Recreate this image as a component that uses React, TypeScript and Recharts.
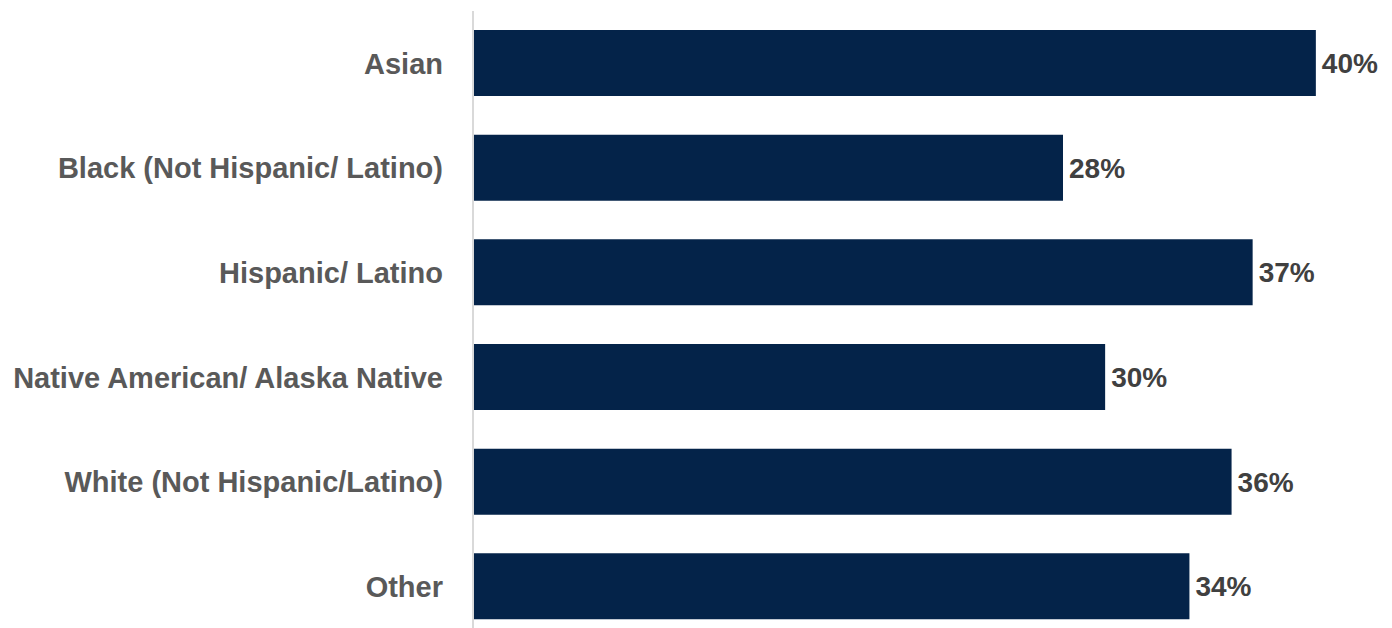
import { BarChart, Bar, XAxis, YAxis, LabelList } from 'recharts';

const categories = [
  'Asian',
  'Black (Not Hispanic/ Latino)',
  'Hispanic/ Latino',
  'Native American/ Alaska Native',
  'White (Not Hispanic/Latino)',
  'Other',
];

const shares = [40, 28, 37, 30, 36, 34];

const data = categories.map((name, i) => ({ name, value: shares[i] }));

const FONT = '"Liberation Sans", Arial, sans-serif';

export default function App() {
  return (
    <div style={{ position: 'absolute', left: 0, top: 0, width: 1392, height: 628, overflow: 'hidden', background: '#fff' }}>
      <BarChart
        width={1392}
        height={641}
        data={data}
        layout="vertical"
        margin={{ top: 11, right: 34, bottom: 2, left: 0 }}
        barSize={66}
      >
        <XAxis type="number" domain={[0, 42]} hide />
        <YAxis
          type="category"
          dataKey="name"
          width={473}
          tickLine={false}
          tickSize={0}
          tickMargin={30}
          axisLine={{ stroke: '#d9d9d9', strokeWidth: 2 }}
          tick={{ fill: '#595959', fontSize: 29, fontWeight: 'bold', fontFamily: FONT }}
          interval={0}
        />
        <Bar dataKey="value" fill="#042349" isAnimationActive={false}>
          <LabelList
            dataKey="value"
            position="right"
            offset={6}
            formatter={(v: any) => `${v}%`}
            style={{ fill: '#404040', fontSize: 28, fontWeight: 'bold', fontFamily: FONT }}
          />
        </Bar>
      </BarChart>
    </div>
  );
}
